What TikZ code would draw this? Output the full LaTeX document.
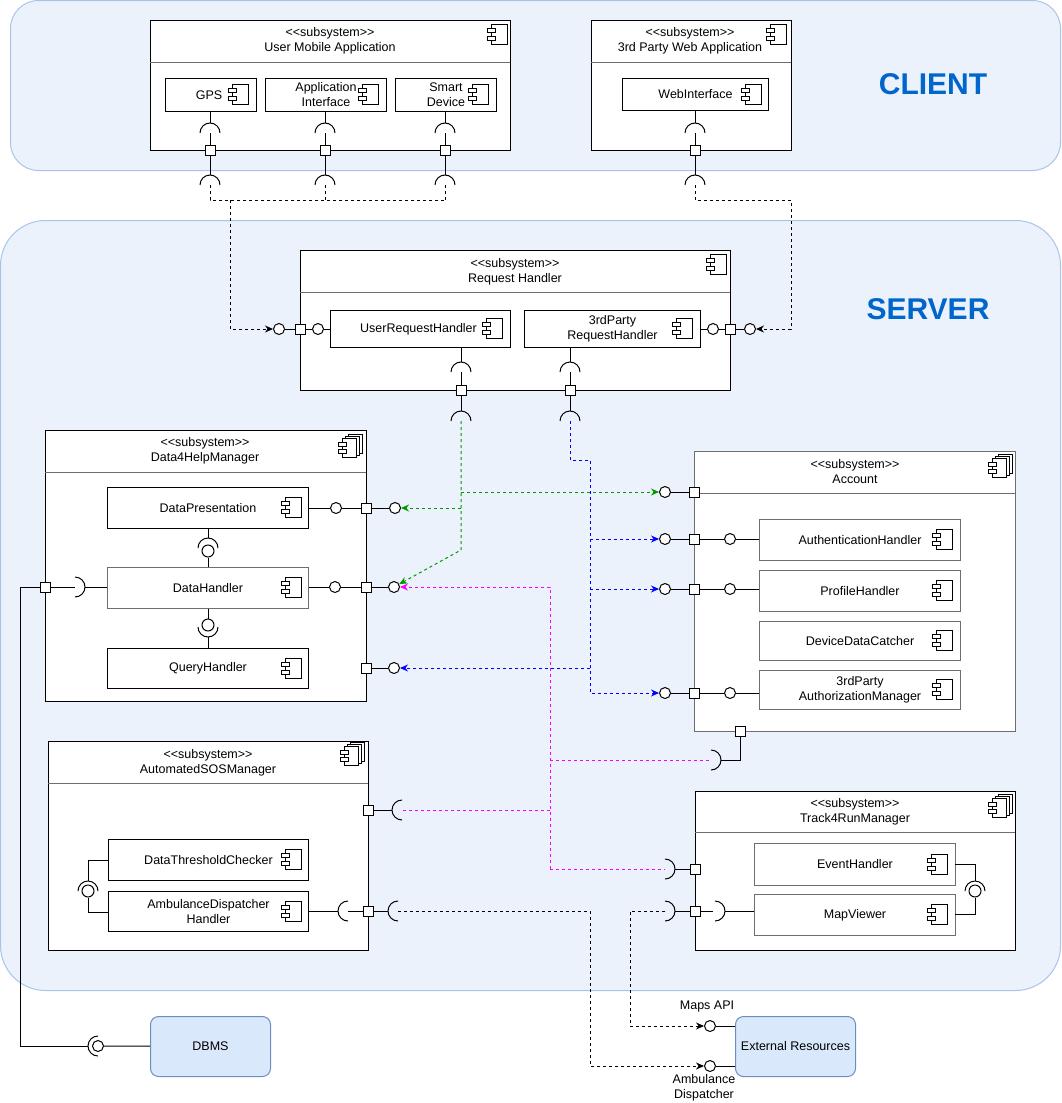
\documentclass[tikz,border=0pt]{standalone}
\usepackage{fontspec}
\setmainfont{Liberation Sans}
\usetikzlibrary{arrows.meta}
\definecolor{regfill}{HTML}{ECF2FC}
\definecolor{regdraw}{HTML}{A9C4EB}
\definecolor{extfill}{HTML}{DAE8FC}
\definecolor{extdraw}{HTML}{6C8EBF}
\definecolor{titleblue}{HTML}{0066CC}
\definecolor{cgreen}{HTML}{009900}
\definecolor{cblue}{HTML}{0000FF}
\definecolor{cmag}{HTML}{FF00FF}
\definecolor{sepgray}{HTML}{6E6E6E}
\definecolor{boxgray}{HTML}{6E6E6E}
\pgfdeclarelayer{back}
\pgfdeclarelayer{boxes}
\pgfdeclarelayer{front}
\pgfsetlayers{back,boxes,main,front}
\newcommand\fs{\fontsize{12.5}{15}\selectfont}
\newcommand\sst{<\kern0pt<subsystem>\kern0pt>}
\newcommand\sockUp[2]{\draw[wire] (#1-10,#2) arc[start angle=180,end angle=360,radius=10];}
\newcommand\sockDown[2]{\draw[wire] (#1-10,#2) arc[start angle=180,end angle=0,radius=10];}
\newcommand\sockRight[2]{\draw[wire] (#1,#2-10) arc[start angle=-90,end angle=90,radius=10];}
\newcommand\sockLeft[2]{\draw[wire] (#1,#2-10) arc[start angle=270,end angle=90,radius=10];}
\tikzset{
  every node/.style={font=\fs},
  region/.style={draw=regdraw, fill=regfill, line width=1pt, inner sep=0pt, anchor=north west},
  box/.style={draw=black, fill=white, line width=1pt, inner sep=0pt, anchor=north west, align=center},
  gbox/.style={box, draw=boxgray},
  ext/.style={draw=extdraw, fill=extfill, line width=1pt, inner sep=0pt, anchor=north west, rounded corners=8, align=center},
  prt/.style={draw=black, fill=white, line width=1pt, minimum size=10pt, inner sep=0pt},
  lol/.style={circle, draw=black, fill=white, line width=1pt, minimum size=11pt, inner sep=0pt},
  ball/.style={circle, draw=black, fill=white, line width=1pt, minimum size=12pt, inner sep=0pt},
  wire/.style={line width=1pt, draw=black},
  dsh/.style={line width=1pt, dash pattern=on 3pt off 3pt},
  arr/.style={-{Stealth[length=8pt,width=7pt]}},
  ttl/.style={align=center},
  sepline/.style={line width=1pt, draw=sepgray},
  titleTxt/.style={text=titleblue, font=\fontsize{30}{36}\selectfont\bfseries},
  cicon/.pic={
    \draw[line width=0.9pt, fill=white] (4,0) rectangle (20,20);
    \draw[line width=0.9pt, fill=white] (0,4) rectangle (8,8);
    \draw[line width=0.9pt, fill=white] (0,12) rectangle (8,16);
  },
  sicon/.pic={
    \draw[line width=0.9pt, fill=white] (10,0) rectangle (24,19);
    \draw[line width=0.9pt, fill=white] (7,2) rectangle (21,21);
    \draw[line width=0.9pt, fill=white] (4,4) rectangle (18,23);
    \draw[line width=0.9pt, fill=white] (0,8) rectangle (8,12);
    \draw[line width=0.9pt, fill=white] (0,15) rectangle (8,19);
  }
}
\begin{document}
\begin{tikzpicture}[x=1pt,y=-1pt]
\path[use as bounding box] (0,0) rectangle (1061,1103);

\begin{pgfonlayer}{back}
\node[region, rounded corners=28, minimum width=1050, minimum height=170] (client) at (10,0) {};
\node[region, rounded corners=45, minimum width=1060, minimum height=770] (server) at (0,220) {};
\node[titleTxt] (clientT) at (933,84) {CLIENT};
\node[titleTxt] (serverT) at (928,309) {SERVER};
\end{pgfonlayer}

\begin{pgfonlayer}{boxes}
% User Mobile Application
\node[box, minimum width=360, minimum height=130] (uma) at (150,20) {};
\draw[sepline] (150,62) -- (510,62);
\node[ttl] (umaT) at (330,41) {\sst\\User Mobile Application};
\pic at (487,24) {cicon};
\node[box, minimum width=91, minimum height=33] (gps) at (165,78) {GPS\hspace*{4pt}};
\pic at (228,84.5) {cicon};
\node[box, minimum width=121, minimum height=33] (appi) at (265,78) {Application\\Interface};
\pic at (358,84.5) {cicon};
\node[box, minimum width=101, minimum height=33] (smart) at (395,78) {Smart\\Device};
\pic at (468,84.5) {cicon};
% 3rd Party Web Application
\node[box, minimum width=200, minimum height=130] (tpw) at (591,20) {};
\draw[sepline] (591,62) -- (791,62);
\node[ttl] (tpwT) at (690,41) {\sst\\3rd Party Web Application};
\pic at (766,24) {cicon};
\node[box, minimum width=146, minimum height=32] (webi) at (622,78) {WebInterface};
\pic at (741,84) {cicon};
% Request Handler
\node[box, minimum width=430, minimum height=140] (rh) at (300,250) {};
\draw[sepline] (300,292) -- (730,292);
\node[ttl] (rhT) at (515,272) {\sst\\Request Handler};
\pic at (706,254) {cicon};
\node[box, minimum width=180, minimum height=37] (urh) at (330,310) {UserRequestHandler\hspace*{4pt}};
\pic at (482,318.5) {cicon};
\node[box, minimum width=176, minimum height=37] (tprh) at (524,310) {3rdParty\\RequestHandler};
\pic at (672,318.5) {cicon};
% Data4HelpManager
\node[box, minimum width=321, minimum height=271] (dfh) at (45,430) {};
\draw[sepline] (45,472) -- (366,472);
\node[ttl] (dfhT) at (205,451) {\sst\\Data4HelpManager};
\pic at (338,434) {sicon};
\node[box, minimum width=201, minimum height=41] (dp) at (107,487) {DataPresentation};
\pic at (281,497.5) {cicon};
\node[gbox, minimum width=201, minimum height=41] (dh) at (107,567) {DataHandler};
\pic at (281,577.5) {cicon};
\node[box, minimum width=201, minimum height=40] (qh) at (107,648) {QueryHandler};
\pic at (281,658) {cicon};
% Account
\node[gbox, minimum width=321, minimum height=280] (acc) at (694,451) {};
\draw[sepline] (694,493) -- (1015,493);
\node[ttl] (accT) at (855,472) {\sst\\Account};
\pic at (988,454) {sicon};
\node[gbox, minimum width=201, minimum height=41] (auth) at (759,519) {AuthenticationHandler};
\pic at (932,529.5) {cicon};
\node[gbox, minimum width=201, minimum height=41] (prof) at (759,570) {ProfileHandler};
\pic at (932,580.5) {cicon};
\node[gbox, minimum width=201, minimum height=39] (ddc) at (759,621) {DeviceDataCatcher};
\pic at (932,630.5) {cicon};
\node[gbox, minimum width=201, minimum height=39] (tpam) at (759,670) {3rdParty\\AuthorizationManager};
\pic at (932,679.5) {cicon};
% AutomatedSOSManager
\node[box, minimum width=320, minimum height=209] (sos) at (48,741) {};
\draw[sepline] (48,783) -- (368,783);
\node[ttl] (sosT) at (208,763) {\sst\\AutomatedSOSManager};
\pic at (340,742) {sicon};
\node[box, minimum width=200, minimum height=41] (dtc) at (108,839) {DataThresholdChecker};
\pic at (281,849.5) {cicon};
\node[box, minimum width=200, minimum height=40] (adh) at (108,891) {AmbulanceDispatcher\\Handler};
\pic at (281,901) {cicon};
% Track4RunManager
\node[box, minimum width=320, minimum height=159] (trk) at (695,791) {};
\draw[sepline] (695,832) -- (1015,832);
\node[ttl] (trkT) at (855,812) {\sst\\Track4RunManager};
\pic at (988,794) {sicon};
\node[gbox, minimum width=201, minimum height=42] (eh) at (754,843) {EventHandler};
\pic at (927,854) {cicon};
\node[gbox, minimum width=201, minimum height=41] (mv) at (754,894) {MapViewer};
\pic at (927,904.5) {cicon};
% external
\node[ext, minimum width=120, minimum height=60] (dbms) at (150,1016) {DBMS};
\node[ext, minimum width=120, minimum height=60] (extr) at (735,1016) {External Resources};
\node (lmaps) at (707,1006) {Maps API};
\node[align=center] (lamb) at (704,1088) {Ambulance\\Dispatcher};
\end{pgfonlayer}

\begin{pgfonlayer}{front}
\node[prt] (pU1) at (210,150) {};
\node[prt] (pU2) at (325,150) {};
\node[prt] (pU3) at (445,150) {};
\node[prt] (pW) at (695,150) {};
\node[prt] (pRL) at (300,329) {};
\node[prt] (pRR) at (730,329) {};
\node[prt] (pRB1) at (461,390) {};
\node[prt] (pRB2) at (570,390) {};
\node[prt] (pDP) at (366,508) {};
\node[prt] (pDH) at (366,587) {};
\node[prt] (pQH) at (366,668) {};
\node[prt] (pDL) at (45,587) {};
\node[prt] (pA0) at (694,492) {};
\node[prt] (pA1) at (694,539) {};
\node[prt] (pA2) at (694,589) {};
\node[prt] (pA3) at (694,693) {};
\node[prt] (pAB) at (740,731) {};
\node[prt] (pS1) at (368,810) {};
\node[prt] (pS2) at (368,911) {};
\node[prt] (pT1) at (695,869) {};
\node[prt] (pT2) at (695,911) {};
\node[lol] (cRLo) at (279,329) {};
\node[lol] (cRLi) at (318,329) {};
\node[lol] (cRRi) at (713,329) {};
\node[lol] (cRRo) at (750,329) {};
\node[lol] (cDPi) at (336,508) {};
\node[lol] (cDPo) at (395,508) {};
\node[lol] (cDHi) at (335,587) {};
\node[lol] (cDHo) at (394,587) {};
\node[lol] (cQHo) at (394,668) {};
\node[lol] (cA0) at (665,492) {};
\node[lol] (cAo1) at (665,539) {};
\node[lol] (cAi1) at (730,539) {};
\node[lol] (cAo2) at (665,589) {};
\node[lol] (cAi2) at (730,589) {};
\node[lol] (cAo3) at (665,693) {};
\node[lol] (cAi3) at (730,693) {};
\node[lol] (cMaps) at (710,1026) {};
\node[lol] (cAmb) at (710,1066) {};
\node[ball] (bDP) at (208,551) {};
\node[ball] (bDQ) at (208,625) {};
\node[ball, minimum size=11pt] (bDB) at (98,1046) {};
\node[ball] (bSOS) at (88,891) {};
\node[ball] (bT) at (975,891) {};
\end{pgfonlayer}

% ---- client side sockets
\foreach \x/\b/\p in {210/gps/pU1, 325/appi/pU2, 445/smart/pU3, 695/webi/pW} {
  \draw[wire] (\b.south -| \p) -- (\x,123);
  \sockUp{\x}{133}
  \draw[wire] (\x,133) -- (\p);
  \draw[wire] (\p) -- (\x,175);
  \sockUp{\x}{185}
}
\draw[dsh] (210,185) |- (445,200);
\draw[dsh] (325,185) -- (325,200);
\draw[dsh] (445,185) -- (445,200);
\draw[dsh,arr] (230,200) |- (cRLo);
\draw[dsh,arr] (695,185) |- (791,200) |- (cRRo);

% ---- request handler
\draw[wire] (cRLo) -- (pRL);
\draw[wire] (pRL) -- (cRLi);
\draw[wire] (cRLi) -- (cRLi -| urh.west);
\draw[wire] (tprh.east |- cRRi) -- (cRRi);
\draw[wire] (cRRi) -- (pRR);
\draw[wire] (pRR) -- (cRRo);
\foreach \x/\b/\p in {461/urh/pRB1, 570/tprh/pRB2} {
  \draw[wire] (\b.south -| \p) -- (\x,362);
  \sockUp{\x}{372}
  \draw[wire] (\x,372) -- (\p);
  \draw[wire] (\p) -- (\x,411);
  \sockUp{\x}{421}
}

% ---- green
\draw[dsh,cgreen,arr] (461,421) -- (461,550) -- (cDHo);
\draw[dsh,cgreen,arr] (461,492) -- (cA0);
\draw[dsh,cgreen,arr] (461,508) -- (cDPo);
% ---- blue
\draw[dsh,cblue,arr] (570,421) |- (590,460) |- (cAo3);
\draw[dsh,cblue,arr] (590,539) -- (cAo1);
\draw[dsh,cblue,arr] (590,589) -- (cAo2);
\draw[dsh,cblue,arr] (590,668) -- (cQHo);
% ---- magenta
\draw[dsh,cmag,arr] (550,869) |- (cDHo);
\draw[dsh,cmag] (550,869) -- (665,869);
\draw[dsh,cmag] (550,760) -- (711,760);
\draw[dsh,cmag] (550,810) -- (402,810);
% ---- black to external
\draw[dsh,arr] (398,911) -| (590,1066) -- (cAmb);
\draw[dsh,arr] (665,911) -| (630,1026) -- (cMaps);

% ---- Data4Help
\draw[wire] (dp.east |- cDPi) -- (cDPi);
\draw[wire] (cDPi) -- (pDP);
\draw[wire] (pDP) -- (cDPo);
\draw[wire] (dh.east |- cDHi) -- (cDHi);
\draw[wire] (cDHi) -- (pDH);
\draw[wire] (pDH) -- (cDHo);
\draw[wire] (pQH) -- (cQHo);
\draw[wire] (dp.south -| bDP) -- (208,538);
\sockUp{208}{548}
\draw[wire] (bDP) -- (bDP |- dh.north);
\draw[wire] (dh.south -| bDQ) -- (bDQ);
\sockDown{208}{627}
\draw[wire] (208,637) -- (bDQ |- qh.north);
\draw[wire] (pDL) -- (75,587);
\sockRight{75}{587}
\draw[wire] (85,587) -- (dh.west |- pDL);
\draw[wire] (pDL) -| (20,1046) -- (88,1046);
\sockLeft{98}{1046}
\draw[wire] (bDB) -- (dbms);

% ---- Account
\draw[wire] (cA0) -- (pA0);
\foreach \i/\b in {1/auth, 2/prof, 3/tpam} {
  \draw[wire] (cAo\i) -- (pA\i);
  \draw[wire] (pA\i) -- (cAi\i);
  \draw[wire] (cAi\i) -- (cAi\i -| \b.west);
}
\draw[wire] (pAB) |- (721,760);
\sockRight{711}{760}

% ---- SOS
\draw[wire] (pS1) -- (392,810);
\sockLeft{402}{810}
\draw[wire] (adh.east |- pS2) -- (338,911);
\sockLeft{348}{911}
\draw[wire] (348,911) -- (pS2);
\draw[wire] (pS2) -- (388,911);
\sockLeft{398}{911}
\draw[wire] (108,860) -| (88,881);
\sockUp{88}{891}
\draw[wire] (bSOS) |- (108,912);

% ---- Track4Run
\draw[wire] (pT1) -- (675,869);
\sockRight{665}{869}
\draw[wire] (pT2) -- (675,911);
\sockRight{665}{911}
\draw[wire] (pT2) -- (713,911);
\sockRight{715}{911}
\draw[wire] (725,911) -- (pT2 -| mv.west);
\draw[wire] (955,864) -| (975,881);
\sockUp{975}{891}
\draw[wire] (bT) |- (955,914);

% ---- external
\draw[wire] (cMaps) -- (cMaps -| extr.west);
\draw[wire] (cAmb) -- (cAmb -| extr.west);
\end{tikzpicture}
\end{document}
